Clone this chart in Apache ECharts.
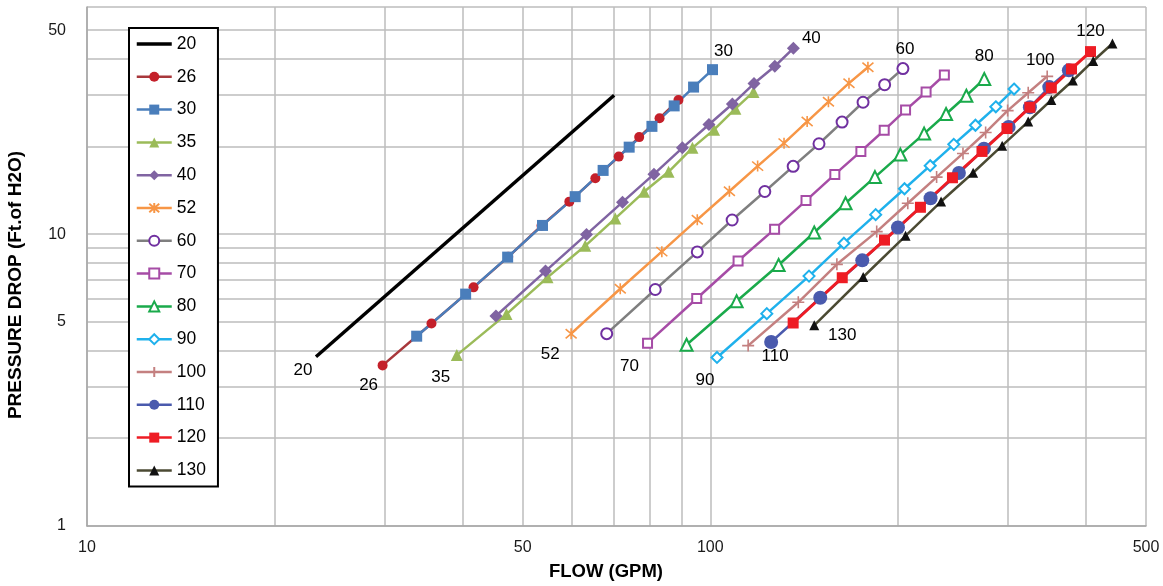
<!DOCTYPE html>
<html>
<head>
<meta charset="utf-8">
<script src="https://cdn.jsdelivr.net/npm/echarts@6/dist/echarts.min.js"></script>
<style>
html,body{margin:0;padding:0;background:#fff;}
#chart{width:1163px;height:586px;}
</style>
</head>
<body>
<div id="chart"></div>
<script>
// ---------- DATA ----------
const seriesNames = ['20','26','30','35','40','52','60','70','80','90','100','110','120','130'];

const flow20 = [23.3, 70.1];
const pd20   = [3.80, 29.9];

const flow26 = [29.8, 35.7, 41.7, 47.4, 53.6, 59.4, 65.4, 71.3, 76.9, 82.9, 88.9];
const pd26   = [3.55, 4.94, 6.57, 8.36, 10.68, 12.92, 15.55, 18.43, 21.5, 24.96, 28.8];

const flow30 = [33.8, 40.5, 47.3, 53.8, 60.7, 67.3, 74.1, 80.6, 87.5, 94.0, 100.8];
const pd30   = [4.47, 6.23, 8.34, 10.71, 13.44, 16.53, 19.86, 23.4, 27.5, 31.9, 36.6];

const flow35 = [39.2, 47.1, 54.8, 63.0, 70.4, 78.3, 85.7, 93.6, 101.4, 109.7, 117.3];
const pd35   = [3.85, 5.32, 7.11, 9.12, 11.32, 13.96, 16.35, 19.75, 22.8, 26.9, 30.7];

const flow40 = [45.3, 54.4, 63.3, 72.3, 81.2, 90.2, 99.5, 108.5, 117.5, 126.9, 135.9];
const pd40   = [5.24, 7.47, 9.98, 12.87, 16.05, 19.75, 23.75, 27.9, 32.8, 37.6, 43.3];

const flow52 = [59.8, 71.7, 83.6, 95.3, 107.3, 119.1, 131.3, 143.0, 154.7, 166.9, 179.0];
const pd52   = [4.56, 6.50, 8.71, 11.21, 14.03, 17.1, 20.5, 24.3, 28.4, 32.9, 37.3];

const flow60 = [68.2, 81.6, 95.3, 108.4, 122.3, 135.8, 149.4, 162.7, 175.8, 190.4, 203.7];
const pd60   = [4.56, 6.46, 8.69, 11.18, 14.0, 17.07, 20.4, 24.2, 28.3, 32.5, 36.9];

const flow70 = [79.3, 95.1, 110.8, 126.8, 142.4, 158.4, 174.4, 190.1, 205.7, 221.9, 237.4];
const pd70   = [4.23, 6.02, 8.09, 10.4, 13.03, 16.02, 19.2, 22.7, 26.6, 30.7, 35.1];

const flow80 = [91.6, 110.2, 128.7, 146.8, 164.8, 183.7, 201.8, 220.3, 238.9, 257.5, 275.1];
const pd80   = [4.18, 5.89, 7.84, 10.13, 12.76, 15.68, 18.73, 22.1, 25.8, 29.8, 34.0];

const flow90 = [102.5, 123.2, 144.0, 163.8, 184.2, 204.9, 225.3, 245.8, 266.3, 287.1, 307.1];
const pd90   = [3.78, 5.34, 7.18, 9.31, 11.66, 14.3, 17.16, 20.3, 23.6, 27.3, 31.4];

const flow100 = [115.0, 138.4, 159.6, 184.9, 207.4, 230.7, 254.3, 276.5, 299.9, 323.6, 347.1];
const pd100   = [4.15, 5.84, 7.88, 10.2, 12.76, 15.68, 18.9, 22.3, 26.5, 30.5, 34.7];

const flow110 = [125.2, 150.1, 175.3, 200.0, 225.6, 250.5, 274.8, 301.0, 325.6, 349.8, 376.0];
const pd110   = [4.27, 6.05, 8.13, 10.54, 13.27, 16.19, 19.6, 23.3, 27.2, 31.9, 36.4];

const flow120 = [135.8, 162.8, 190.3, 217.3, 244.6, 272.8, 299.2, 325.6, 352.4, 379.7, 407.3];
const pd120   = [4.96, 7.09, 9.54, 12.36, 15.6, 19.2, 23.0, 27.2, 31.7, 36.8, 42.2];

const flow130 = [146.8, 175.9, 205.7, 234.5, 264.0, 293.9, 323.6, 352.4, 381.6, 411.4, 441.7];
const pd130   = [4.87, 7.13, 9.87, 12.93, 16.23, 20.1, 24.3, 28.8, 33.6, 39.2, 45.0];

const xGridValues  = [10,20,30,40,50,60,70,80,90,100,200,300,400,500];
const xLabelValues = [10,50,100,500];
const yGridValues  = [1,2,3,4,5,6,7,8,9,10,20,30,40,50,60];
const yLabelValues = [1,5,10,50];

// ---------- STYLES ----------
const FONT = '"Liberation Sans", Arial, Helvetica, sans-serif';
const ASTERISK = 'path://M5,0L5,10M0.8,0.8L9.2,9.2M0.8,9.2L9.2,0.8';
const PLUS = 'path://M5,0L5,10M0,5L10,5';

const styleOf = {
  '20':  {line:'#000000', w:3.5, sym:'circle', size:2, col:'rgba(0,0,0,0)', bw:0, lab:['first',[-13,14]]},
  '26':  {line:'#a8383c', w:2.5, sym:'circle', size:10, col:'#c4202a', bw:0, lab:['first',[-14,20]]},
  '30':  {line:'#4a7ebb', w:2.5, sym:'rect', size:11, col:'#4a7ebb', bw:0, lab:['last',[11,-18]]},
  '35':  {line:'#9bbb59', w:2.5, sym:'triangle', size:12, col:'#9bbb59', bw:0, lab:['first',[-16,22]]},
  '40':  {line:'#8064a2', w:2.5, sym:'diamond', size:13, col:'#8064a2', bw:0, lab:['last',[18,-10]]},
  '52':  {line:'#f79646', w:2.5, sym:ASTERISK, size:11, col:'#f79646', bw:1.6, lab:['first',[-21,21]]},
  '60':  {line:'#7f7f7f', w:2.5, sym:'emptyCircle', size:11, col:'#7030a0', bw:1.3, lab:['last',[2,-19]]},
  '70':  {line:'#a64ca6', w:2.5, sym:'emptyRect', size:9, col:'#a64ca6', bw:1.5, lab:['first',[-18,23]]},
  '80':  {line:'#1aaa4b', w:2.5, sym:'emptyTriangle', size:12, col:'#1aaa4b', bw:1.6, lab:['last',[0,-23]]},
  '90':  {line:'#1fb1ec', w:2.5, sym:'emptyDiamond', size:11, col:'#1fb1ec', bw:1.5, lab:['first',[-12,23]]},
  '100': {line:'#c48080', w:2.5, sym:PLUS, size:12, col:'#c48080', bw:1.6, lab:['last',[-7,-16]]},
  '110': {line:'#4a5aad', w:2.5, sym:'circle', size:14, col:'#4a5aad', bw:0, lab:['first',[4,14]]},
  '120': {line:'#ee1c24', w:3, sym:'rect', size:11, col:'#ee1c24', bw:0, lab:['last',[0,-20]]},
  '130': {line:'#4b4a33', w:2.5, sym:'triangle', size:10, col:'#111111', bw:0, lab:['first',[28,10]]}
};

const seriesData = {
  '20':[flow20,pd20], '26':[flow26,pd26], '30':[flow30,pd30], '35':[flow35,pd35],
  '40':[flow40,pd40], '52':[flow52,pd52], '60':[flow60,pd60], '70':[flow70,pd70],
  '80':[flow80,pd80], '90':[flow90,pd90], '100':[flow100,pd100], '110':[flow110,pd110],
  '120':[flow120,pd120], '130':[flow130,pd130]
};

function makeSeries(name) {
  const [flows, drops] = seriesData[name];
  const st = styleOf[name];
  const labIdx = st.lab[0] === 'first' ? 0 : flows.length - 1;
  const data = flows.map((q, i) => {
    const item = { value: [q, drops[i]] };
    if (i === labIdx) {
      item.label = {
        show: true, position: 'inside', offset: st.lab[1], formatter: name,
        color: '#000', fontSize: 17, fontFamily: FONT, align: 'center', verticalAlign: 'middle'
      };
    }
    return item;
  });
  return {
    name: name, type: 'line', data: data,
    symbol: st.sym, symbolSize: st.size, showSymbol: true,
    itemStyle: { color: st.col, borderColor: st.col, borderWidth: st.bw, opacity: 1 },
    lineStyle: { color: st.line, width: st.w },
    label: { show: false },
    emphasis: { disabled: true },
    animation: false,
    clip: false
  };
}

const chart = echarts.init(document.getElementById('chart'), null, { renderer: 'canvas' });
chart.setOption({
  backgroundColor: '#ffffff',
  animation: false,
  grid: { left: 87, right: 17, top: 7, bottom: 60, containLabel: false, outerBoundsMode: 'none' },
  legend: {
    orient: 'vertical', left: 129, top: 28,
    padding: [6, 12, 6, 6],
    backgroundColor: '#ffffff', borderColor: '#000000', borderWidth: 2, borderRadius: 0,
    itemWidth: 35, itemHeight: 12.5, itemGap: 12.8,
    selectedMode: false,
    textStyle: { fontSize: 17.5, color: '#000', fontFamily: FONT, lineHeight: 20 },
    lineStyle: { width: 2.5 },
    data: seriesNames.map(n => n === '20' ? { name: n, lineStyle: { width: 3.5 } } : { name: n })
  },
  xAxis: {
    type: 'log', logBase: 10, min: 10, max: 500,
    axisLine: { show: true, onZero: false, lineStyle: { color: '#a6a6a6', width: 1.5 } },
    axisTick: { show: false, customValues: xGridValues },
    minorTick: { show: false }, minorSplitLine: { show: false },
    axisLabel: { customValues: xLabelValues, fontSize: 16, color: '#1a1a1a', fontFamily: FONT, margin: 14,
                 formatter: v => String(Math.round(v)) },
    splitLine: { show: true, lineStyle: { color: '#bdbdbd', width: 1.5 } },
    name: 'FLOW (GPM)', nameLocation: 'middle', nameGap: 36,
    nameTextStyle: { fontSize: 18.5, fontWeight: 'bold', color: '#000', fontFamily: FONT, padding: [0, 21, 0, 0] }
  },
  yAxis: {
    type: 'log', logBase: 10, min: 1, max: 60,
    axisLine: { show: true, onZero: false, lineStyle: { color: '#a6a6a6', width: 1.5 } },
    axisTick: { show: false, customValues: yGridValues },
    minorTick: { show: false }, minorSplitLine: { show: false },
    axisLabel: { customValues: yLabelValues, fontSize: 16, color: '#1a1a1a', fontFamily: FONT, margin: 21,
                 formatter: v => String(Math.round(v)) },
    splitLine: { show: true, lineStyle: { color: '#bdbdbd', width: 1.5 } },
    name: 'PRESSURE DROP (Ft.of H2O)', nameLocation: 'middle', nameRotate: 90, nameGap: 62,
    nameTextStyle: { fontSize: 19, fontWeight: 'bold', color: '#000', fontFamily: FONT, padding: [0, 37, 0, 0] }
  },
  series: seriesNames.map(makeSeries)
});
</script>
</body>
</html>
